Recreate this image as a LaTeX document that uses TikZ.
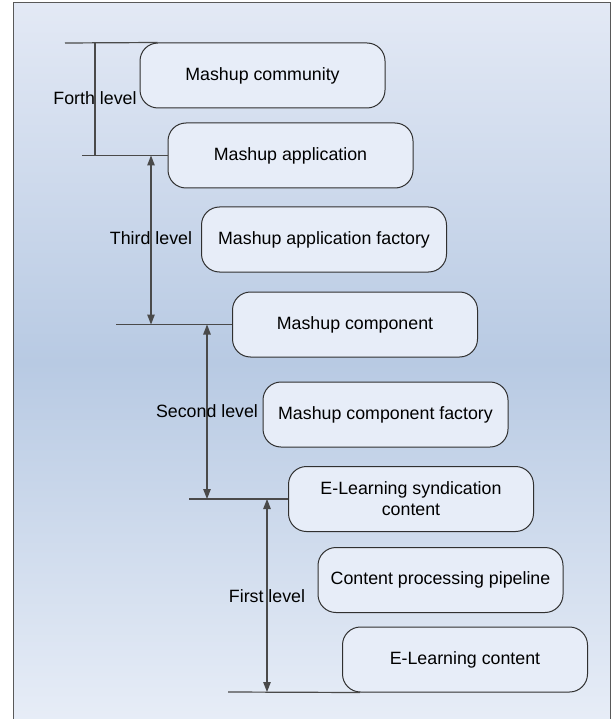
\documentclass[tikz,border=0pt]{standalone}
\usepackage{fontspec}
\setmainfont{Liberation Sans}
\usetikzlibrary{arrows.meta}
\definecolor{pantop}{HTML}{E3E9F5}
\definecolor{panmid}{HTML}{B8CAE3}
\definecolor{panbot}{HTML}{E7EDF7}
\definecolor{boxfill}{HTML}{E7EDF8}
\definecolor{boxline}{HTML}{303030}
\definecolor{lvline}{HTML}{4A4A4A}
\tikzset{
  stepbox/.style={draw=boxline, line width=1pt, fill=boxfill, rounded corners=18pt,
    minimum width=245pt, minimum height=65pt, inner sep=2pt, align=center,
    font=\fontsize{17.8}{21}\selectfont},
  lvlabel/.style={inner sep=0pt, font=\fontsize{17.8}{21}\selectfont},
  lvl/.style={draw=lvline, line width=1.2pt},
  lvarrow/.style={draw=lvline, line width=1.2pt, {Triangle[length=10pt,width=7.5pt]}-{Triangle[length=10pt,width=7.5pt]}},
}
\begin{document}
\begin{tikzpicture}[x=1pt,y=-1pt]
\useasboundingbox (0,0) rectangle (611,719);
% panel
\shade[top color=pantop, bottom color=panbot, middle color=panmid] (13,3) rectangle (610,722);
\draw[draw=gray!70!black, line width=1pt] (13,722) -- (13,3) -- (610,3) -- (610,722);
% boxes
\node[stepbox] (b1) at (262.5,75.5) {Mashup community};
\node[stepbox] (b2) at (290.5,155.5) {Mashup application};
\node[stepbox] (b3) at (324,239.5) {Mashup application factory};
\node[stepbox] (b4) at (355,324.5) {Mashup component};
\node[stepbox] (b5) at (385.5,414.5) {Mashup component factory};
\node[stepbox] (b6) at (411,499) {E-Learning syndication\\content};
\node[stepbox] (b7) at (440.5,580) {Content processing pipeline};
\node[stepbox] (b8) at (465,659.5) {E-Learning content};
% coordinates
\coordinate (f1) at (65,43);
\coordinate (f2) at (95,43);
\coordinate (f3) at (95,155.5);
\coordinate (f4) at (82,155.5);
\coordinate (t1) at (151,155.5);
\coordinate (t2) at (151,324.5);
\coordinate (t3) at (116,324.5);
\coordinate (s1) at (207,324.5);
\coordinate (s2) at (207,499);
\coordinate (s3) at (189,499);
\coordinate (p1) at (267,499);
\coordinate (p2) at (267,692);
\coordinate (p3) at (228,692);
% forth level
\draw[lvl] (f1) -- ([xshift=18pt]b1.north west);
\draw[lvl] (f2) -- (f3);
\draw[lvl] (f4) -- (b2.west);
% third level
\draw[lvarrow] (t1) -- (t2);
\draw[lvl] (t3) -- (b4.west);
% second level
\draw[lvarrow] (s1) -- (s2);
\draw[lvl] (s3) -- (b6.west);
% first level
\draw[lvarrow] (p1) -- (p2);
\draw[lvl] (p3) -- ([xshift=18pt]b8.south west);
% labels
\node[lvlabel] (lf) at (95,98) {Forth level};
\node[lvlabel] (lt) at (151,238) {Third level};
\node[lvlabel] (ls) at (207,411) {Second level};
\node[lvlabel] (lp) at (267,596) {First level};
\end{tikzpicture}
\end{document}
